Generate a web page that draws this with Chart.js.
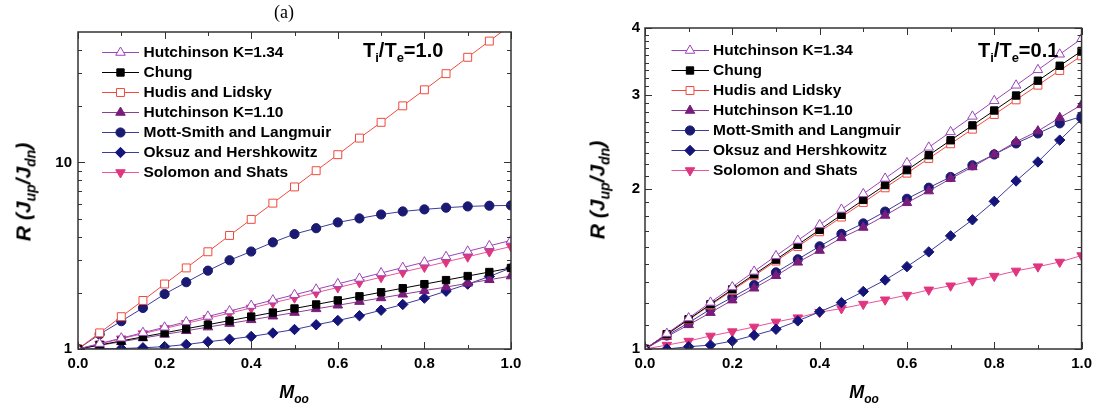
<!DOCTYPE html>
<html>
<head>
<meta charset="utf-8">
<script src="https://cdn.jsdelivr.net/npm/chart.js@4.4.1/dist/chart.umd.min.js"></script>
<style>
html,body{margin:0;padding:0;background:#fff;}
#wrap{position:relative;width:1098px;height:409px;overflow:hidden;font-family:"Liberation Sans",Arial,sans-serif;color:#000;}
.cv{position:absolute;top:0;}
.ttl{position:absolute;transform:translate(-50%,-50%);font-family:"Liberation Serif","DejaVu Serif",serif;font-size:18px;white-space:nowrap;}
.ann{position:absolute;font-weight:bold;font-size:20px;line-height:20px;white-space:nowrap;}
.ann sub{font-size:13px;vertical-align:-5px;line-height:0;}
.ylab{position:absolute;transform:translate(-50%,-50%) rotate(-90deg);font-weight:bold;font-style:italic;font-size:21px;line-height:21px;white-space:nowrap;}
.ylab sub{font-size:14px;vertical-align:-5px;line-height:0;}
.xlab{position:absolute;transform:translate(-50%,-50%);font-weight:bold;font-style:italic;font-size:18px;line-height:18px;white-space:nowrap;}
.xlab sub{font-size:12px;vertical-align:-5px;line-height:0;}
</style>
</head>
<body>
<div id="wrap">
  <canvas id="cL" class="cv" width="549" height="409" style="left:0px"></canvas>
  <canvas id="cR" class="cv" width="549" height="409" style="left:549px"></canvas>
  <div class="ttl" style="left:284px;top:12px">(a)</div>
  <div class="ann" style="left:363px;top:40px">T<sub>i</sub>/T<sub>e</sub>=1.0</div>
  <div class="ann" style="left:978px;top:40px">T<sub>i</sub>/T<sub>e</sub>=0.1</div>
  <div class="ylab" style="left:23px;top:192px">R (J<sub>up</sub>/J<sub>dn</sub>)</div>
  <div class="ylab" style="left:597px;top:190px">R (J<sub>up</sub>/J<sub>dn</sub>)</div>
  <div class="xlab" style="left:294px;top:392px">M<sub>oo</sub></div>
  <div class="xlab" style="left:864px;top:392px">M<sub>oo</sub></div>
</div>
<script>
// ---------------- data ----------------
const M = [0.00,0.05,0.10,0.15,0.20,0.25,0.30,0.35,0.40,0.45,0.50,0.55,0.60,0.65,0.70,0.75,0.80,0.85,0.90,0.95,1.00];

const seriesNames = ["Hutchinson K=1.34","Chung","Hudis and Lidsky","Hutchinson K=1.10","Mott-Smith and Langmuir","Oksuz and Hershkowitz","Solomon and Shats"];

// Ti/Te = 1.0 (left panel)
const hutch134_L = [1.000,1.069,1.143,1.223,1.307,1.398,1.495,1.598,1.709,1.827,1.954,2.089,2.234,2.389,2.554,2.731,2.921,3.123,3.339,3.571,3.819];
const chung_L    = [1.000,1.051,1.105,1.162,1.221,1.284,1.350,1.419,1.492,1.568,1.649,1.733,1.822,1.916,2.014,2.117,2.226,2.340,2.460,2.586,2.718];
const hudis_L    = [1.00,1.22,1.49,1.82,2.23,2.72,3.32,4.06,4.95,6.05,7.39,9.03,11.0,13.5,16.4,20.1,24.5,29.9,36.6,44.7,54.6];
const hutch110_L = [1.000,1.046,1.094,1.145,1.197,1.252,1.310,1.370,1.433,1.499,1.568,1.641,1.716,1.795,1.878,1.964,2.054,2.149,2.248,2.351,2.460];
const mott_L     = [1.00,1.20,1.41,1.66,1.97,2.28,2.63,2.99,3.33,3.73,4.13,4.44,4.77,5.01,5.26,5.46,5.60,5.72,5.81,5.86,5.88];
const oksuz_L    = [1.000,1.002,1.006,1.015,1.030,1.057,1.093,1.128,1.167,1.218,1.272,1.348,1.422,1.507,1.614,1.733,1.873,2.041,2.226,2.447,2.720];
const solomon_L  = [1.000,1.065,1.135,1.209,1.288,1.372,1.461,1.557,1.659,1.767,1.882,2.005,2.136,2.275,2.424,2.582,2.751,2.931,3.122,3.326,3.543];

// Ti/Te = 0.1 (right panel)
const hutch134_R = [1.000,1.069,1.143,1.223,1.307,1.398,1.495,1.598,1.709,1.827,1.954,2.089,2.234,2.389,2.554,2.731,2.921,3.123,3.339,3.571,3.819];
const chung_R    = [1.000,1.066,1.137,1.213,1.294,1.380,1.471,1.569,1.673,1.785,1.904,2.030,2.165,2.309,2.463,2.627,2.801,2.988,3.186,3.398,3.622];
const hudis_R    = [1.000,1.065,1.135,1.209,1.288,1.372,1.462,1.557,1.659,1.768,1.883,2.006,2.137,2.277,2.426,2.584,2.753,2.933,3.125,3.330,3.547];
const hutch110_R = [1.000,1.055,1.110,1.170,1.235,1.300,1.372,1.454,1.530,1.616,1.690,1.780,1.880,1.978,2.087,2.195,2.317,2.447,2.563,2.715,2.870];
const mott_R     = [1.000,1.060,1.120,1.188,1.250,1.318,1.392,1.473,1.558,1.644,1.720,1.810,1.913,2.007,2.102,2.211,2.317,2.430,2.537,2.650,2.730];
const oksuz_R    = [1.000,1.000,1.010,1.017,1.035,1.061,1.089,1.129,1.174,1.222,1.282,1.347,1.427,1.521,1.630,1.747,1.892,2.066,2.243,2.465,2.700];
const solomon_R  = [1.000,1.017,1.035,1.058,1.078,1.100,1.124,1.145,1.172,1.191,1.214,1.237,1.262,1.291,1.314,1.343,1.370,1.401,1.427,1.456,1.497];

// tick labels
const xTickLabels = [0.0,0.2,0.4,0.6,0.8,1.0];
const xMinorTicks = [0.1,0.3,0.5,0.7,0.9];
const yTickLabels_L = [1,10];
const yMinorTicks_L = [2,3,4,5,6,7,8,9,20,30,40];
const yTickLabels_R = [1,2,3,4];
const yMinorTicks_R = [];
[1,2,3].forEach(b => { for (let k = 1; k <= 8; k++) yMinorTicks_R.push(b + k/9); });

// ---------------- styles ----------------
const styles = [
  {line:'#9a45b8', fill:'#ffffff', edge:'#9a45b8', shape:'triangle', rot:0,   r:5.5},
  {line:'#000000', fill:'#000000', edge:'#000000', shape:'rect',     rot:0,   r:5.2},
  {line:'#f04a3c', fill:'#ffffff', edge:'#f04a3c', shape:'rect',     rot:0,   r:5.6},
  {line:'#8e3d96', fill:'#7a1c7c', edge:'#7a1c7c', shape:'triangle', rot:0,   r:5.5},
  {line:'#3b3b9a', fill:'#1a1a72', edge:'#1a1a72', shape:'circle',   rot:0,   r:4.6},
  {line:'#3b3b9a', fill:'#14147a', edge:'#14147a', shape:'rectRot',  rot:0,   r:5.2},
  {line:'#e8559a', fill:'#e0357f', edge:'#e0357f', shape:'triangle', rot:180, r:5.5}
];

function makeDatasets(valueLists) {
  return valueLists.map((vals, i) => {
    const s = styles[i];
    return {
      label: seriesNames[i],
      data: M.map((m, j) => ({x: m, y: vals[j]})),
      borderColor: s.line,
      borderWidth: 1,
      tension: 0,
      pointStyle: s.shape,
      pointRotation: s.rot,
      pointRadius: s.r,
      pointHoverRadius: s.r,
      pointBackgroundColor: s.fill,
      pointBorderColor: s.edge,
      pointBorderWidth: 1,
      order: i
    };
  });
}

function drawMarker(ctx, ds, x, y) {
  ctx.save();
  ctx.fillStyle = ds.pointBackgroundColor;
  ctx.strokeStyle = ds.pointBorderColor;
  ctx.lineWidth = ds.pointBorderWidth;
  const H = Chart.helpers;
  if (H && H.drawPoint) {
    H.drawPoint(ctx, {pointStyle: ds.pointStyle, rotation: ds.pointRotation || 0, radius: ds.pointRadius, borderWidth: ds.pointBorderWidth}, x, y);
  } else {
    ctx.beginPath(); ctx.arc(x, y, ds.pointRadius, 0, Math.PI*2); ctx.fill(); ctx.stroke();
  }
  ctx.restore();
}

const framePlugin = {
  id: 'originFrame',
  afterDatasetsDraw(chart, args, o) {
    const {ctx, chartArea: a} = chart;
    const xs = chart.scales.x, ys = chart.scales.y;
    ctx.save();
    ctx.strokeStyle = '#333333';
    ctx.lineWidth = 1;
    const vt = (v, len) => {
      const px = Math.round(xs.getPixelForValue(v)) + 0.5;
      ctx.beginPath();
      ctx.moveTo(px, a.bottom); ctx.lineTo(px, a.bottom - len);
      ctx.moveTo(px, a.top); ctx.lineTo(px, a.top + len);
      ctx.stroke();
    };
    const ht = (v, len) => {
      const py = Math.round(ys.getPixelForValue(v)) + 0.5;
      ctx.beginPath();
      ctx.moveTo(a.left, py); ctx.lineTo(a.left + len, py);
      ctx.moveTo(a.right, py); ctx.lineTo(a.right - len, py);
      ctx.stroke();
    };
    o.xMajor.forEach(v => vt(v, 7));
    o.xMinor.forEach(v => vt(v, 4));
    o.yMajor.forEach(v => ht(v, 7));
    o.yMinor.forEach(v => ht(v, 4));
    ctx.lineWidth = 1.5;
    ctx.strokeRect(a.left, a.top, a.right - a.left, a.bottom - a.top);
    ctx.restore();

    // legend
    const L = o.legend;
    ctx.save();
    ctx.font = 'bold 15.5px "Liberation Sans", Arial, sans-serif';
    ctx.textBaseline = 'middle';
    ctx.fillStyle = '#000';
    chart.data.datasets.forEach((ds, i) => {
      const y = L.y0 + i * L.dy;
      ctx.strokeStyle = ds.borderColor;
      ctx.lineWidth = 1;
      ctx.beginPath(); ctx.moveTo(L.x0, y + 0.5); ctx.lineTo(L.x1, y + 0.5); ctx.stroke();
      drawMarker(ctx, ds, L.xm, y + 0.5);
      ctx.fillStyle = '#000';
      ctx.fillText(ds.label, L.xt, y + 1);
    });
    ctx.restore();
  }
};

function makeChart(id, valueLists, cfg) {
  return new Chart(document.getElementById(id), {
    type: 'line',
    data: { datasets: makeDatasets(valueLists) },
    plugins: [framePlugin],
    options: {
      responsive: false,
      animation: false,
      devicePixelRatio: 1,
      events: [],
      layout: { padding: { left: 0, top: cfg.top, right: cfg.right, bottom: 0 } },
      plugins: {
        legend: { display: false },
        tooltip: { enabled: false },
        title: { display: false },
        originFrame: {
          xMajor: xTickLabels, xMinor: xMinorTicks,
          yMajor: cfg.yMajor, yMinor: cfg.yMinor,
          legend: cfg.legend
        }
      },
      scales: {
        x: {
          type: 'linear', min: 0, max: 1,
          grid: { display: false, drawTicks: false },
          border: { display: false },
          afterFit: s => { s.height = cfg.xh; },
          afterBuildTicks: s => { s.ticks = xTickLabels.map(v => ({value: v})); },
          ticks: {
            padding: 6, color: '#000', maxRotation: 0, autoSkip: false,
            font: { family: '"Liberation Sans", Arial, sans-serif', size: 15, weight: 'bold' },
            callback: v => Number(v).toFixed(1)
          }
        },
        y: {
          type: 'logarithmic', min: cfg.ymin, max: cfg.ymax,
          grid: { display: false, drawTicks: false },
          border: { display: false },
          afterFit: s => { s.width = cfg.yw; },
          afterBuildTicks: s => { s.ticks = cfg.yMajor.map(v => ({value: v})); },
          ticks: {
            padding: cfg.ypad, color: '#000', autoSkip: false,
            font: { family: '"Liberation Sans", Arial, sans-serif', size: 15, weight: 'bold' },
            callback: v => String(v)
          }
        }
      }
    }
  });
}

makeChart('cL', [hutch134_L, chung_L, hudis_L, hutch110_L, mott_L, oksuz_L, solomon_L], {
  top: 32, right: 38, xh: 60, yw: 78, ypad: 6, ymin: 1, ymax: 50,
  yMajor: yTickLabels_L, yMinor: yMinorTicks_L,
  legend: { x0: 102, x1: 139, xm: 120.5, xt: 143.5, y0: 52, dy: 20 }
});

makeChart('cR', [hutch134_R, chung_R, hudis_R, hutch110_R, mott_R, oksuz_R, solomon_R], {
  top: 28, right: 14, xh: 60, yw: 96, ypad: 5, ymin: 1, ymax: 4,
  yMajor: yTickLabels_R, yMinor: yMinorTicks_R,
  legend: { x0: 122.5, x1: 160, xm: 141, xt: 164, y0: 50, dy: 20 }
});
</script>
</body>
</html>
